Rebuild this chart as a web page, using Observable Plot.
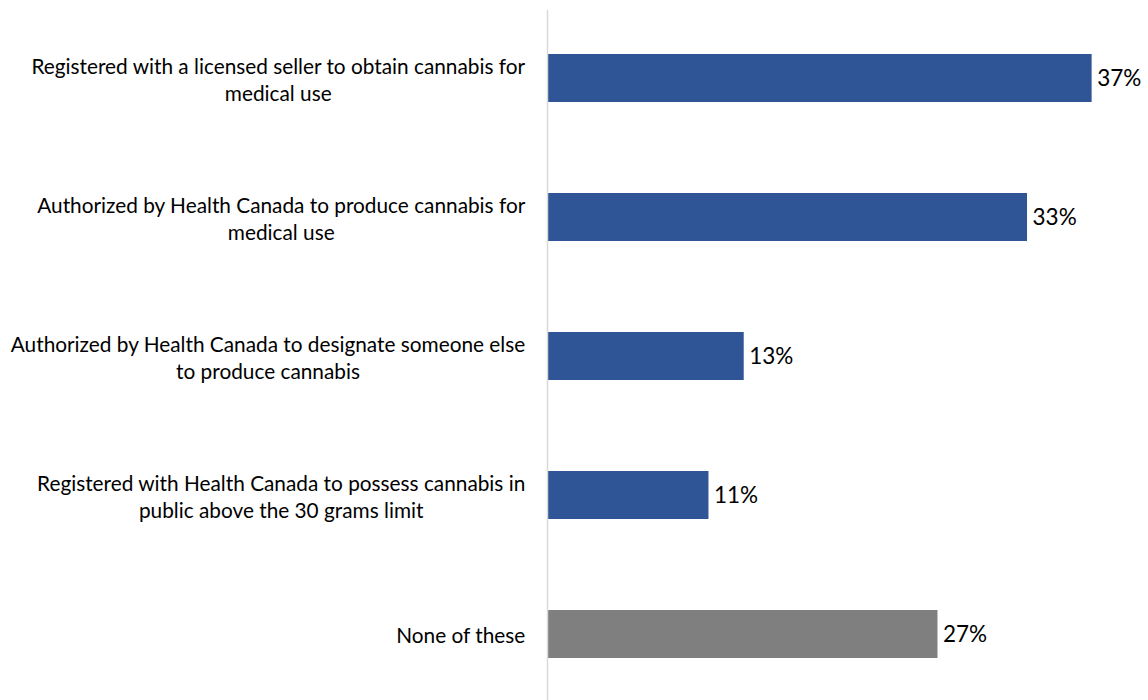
<!DOCTYPE html>
<html>
<head>
<meta charset="utf-8">
<script src="https://cdn.jsdelivr.net/npm/d3@7"></script>
<script src="https://cdn.jsdelivr.net/npm/@observablehq/plot@0.6"></script>
<style>
  html, body { margin: 0; padding: 0; background: #fff; }
  #chart svg { display: block; }
</style>
</head>
<body>
<div id="chart"></div>
<script>
const categories = [
  "Registered with a licensed seller to obtain cannabis for\nmedical use",
  "Authorized by Health Canada to produce cannabis for\nmedical use",
  "Authorized by Health Canada to designate someone else\nto produce cannabis",
  "Registered with Health Canada to possess cannabis in\npublic above the 30 grams limit",
  "None of these"
];
const values = [37.1, 32.7, 13.4, 11.0, 26.6];
const groups = ["yes", "yes", "yes", "yes", "none"];

const FONT = "Lato, 'Open Sans', sans-serif";
const labelSize = 20.8;
const valueSize = 22.5;

const xOpts = {domain: [0, 40], range: [547, 547 + 40 * 14.68]};
const xScale = Plot.scale({x: xOpts});

const ctx = document.createElement("canvas").getContext("2d");
ctx.font = `${labelSize}px Lato`;
const labelRight = 525;

const data = categories.map((c, i) => {
  const w = d3.max(c.split("\n"), s => ctx.measureText(s).width);
  return {
    category: c,
    value: values[i],
    group: groups[i],
    labelX: xScale.invert(labelRight - w / 2)
  };
});

const chart = Plot.plot({
  width: 1148,
  height: 700,
  marginTop: 10,
  marginBottom: 0,
  marginLeft: 547,
  marginRight: 0,
  style: {fontFamily: FONT, background: "#fff"},
  x: {...xOpts, axis: null},
  y: {domain: categories, range: [8.5, 703.5], paddingInner: 0.655, paddingOuter: 0.3275, axis: null},
  color: {domain: ["yes", "none"], range: ["#2f5597", "#7f7f7f"]},
  marks: [
    Plot.barX(data, {x: "value", y: "category", fill: "group"}),
    Plot.ruleX([0], {stroke: "#d9d9d9", strokeWidth: 1.5}),
    Plot.text(data, {
      x: "value", y: "category",
      text: d => `${Math.round(d.value)}%`,
      textAnchor: "start", dx: 5,
      fontSize: valueSize, fill: "#000"
    }),
    Plot.text(data, {
      x: "labelX", y: "category",
      text: "category",
      textAnchor: "middle", lineAnchor: "middle", lineHeight: 1.3,
      fontSize: labelSize, fill: "#000"
    })
  ]
});
document.getElementById("chart").append(chart);
</script>
</body>
</html>
